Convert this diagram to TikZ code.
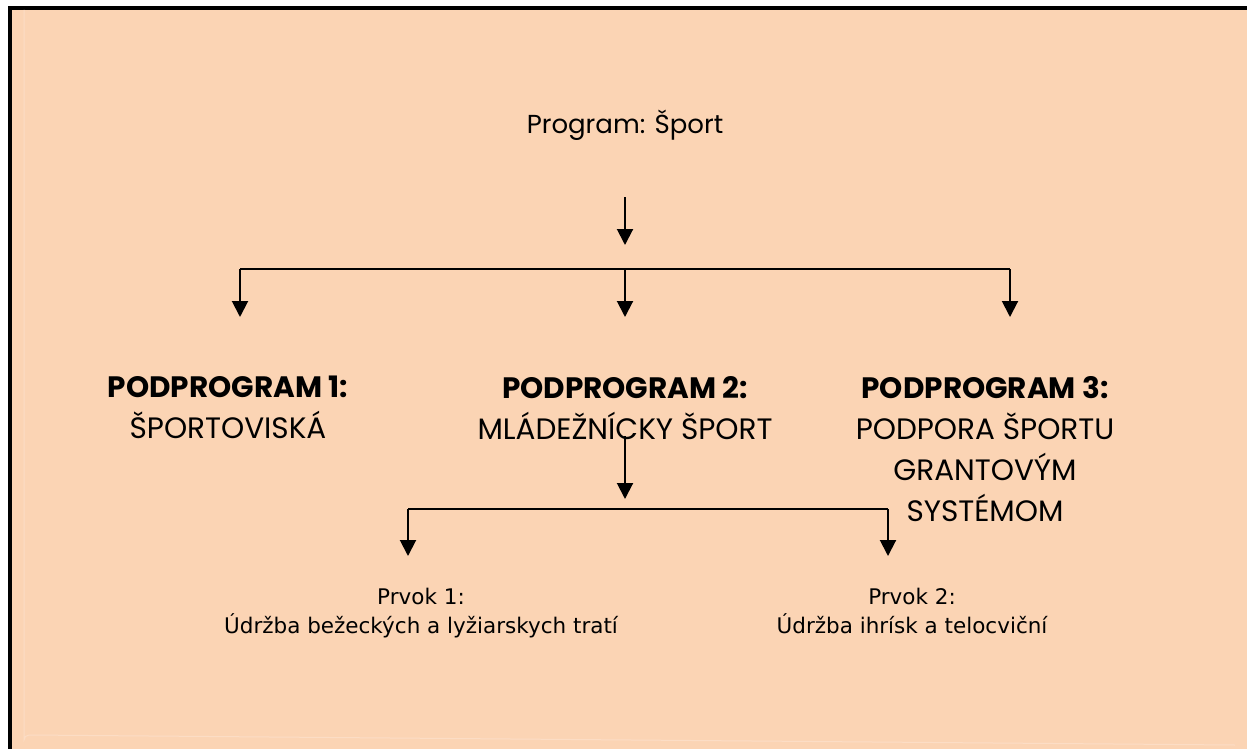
\documentclass[tikz,border=0pt]{standalone}
\usepackage{fontspec}
\usetikzlibrary{arrows.meta}
\newfontfamily\gothic{Poppins}
\newfontfamily\verd{DejaVu Sans}
\definecolor{peach}{HTML}{FBD4B4}
\definecolor{peachline}{HTML}{FCDDC5}
\tikzset{
  arr/.style={line width=2pt,-{Triangle[width=16pt,length=16pt]}},
  ln/.style={line width=2pt},
  toptext/.style={inner sep=0pt,font=\gothic\fontsize{26}{32}\selectfont},
  sub/.style={inner sep=0pt,align=center,anchor=north,font=\gothic\fontsize{29.5}{41}\selectfont},
  elem/.style={inner sep=0pt,align=center,anchor=north,font=\verd\fontsize{21.5}{29}\selectfont}
}
\begin{document}
\begin{tikzpicture}[x=1pt,y=-1pt]
\useasboundingbox (0,0) rectangle (1247,749);
\fill[peach] (8,6) rectangle (1247,749);
\fill[black] (8,6) rectangle (1247,10);
\fill[black] (8,6) rectangle (12,749);
\draw[peachline,line width=1pt] (24,10) -- (24,740) arc[start angle=180,end angle=270,radius=5] -- (1235,745);

\node[toptext,anchor=base] (prog) at (625,134) {Program: Šport};

\node[sub] (p1) at (228,376) {\textbf{PODPROGRAM 1:}\\ŠPORTOVISKÁ};
\node[sub] (p2) at (625,376) {\textbf{PODPROGRAM 2:}\\MLÁDEŽNÍCKY ŠPORT};
\node[sub] (p3) at (985,376) {\textbf{PODPROGRAM 3:}\\PODPORA ŠPORTU\\GRANTOVÝM\\SYSTÉMOM};

\node[elem] (e1) at (421,588) {Prvok 1:\\Údržba bežeckých a lyžiarskych tratí};
\node[elem] (e2) at (912,588) {Prvok 2:\\Údržba ihrísk a telocviční};

\coordinate (a0) at (625,197);
\coordinate (a1) at (625,245);
\coordinate (hl) at (240,269);
\coordinate (hm) at (625,269);
\coordinate (hr) at (1010,269);
\draw[arr] (a0) -- (a1);
\draw[ln] (hl) -- (hr);
\draw[arr] (hl) -- (hl |- 0,317);
\draw[arr] (hm) -- (hm |- 0,317);
\draw[arr] (hr) -- (hr |- 0,317);

\coordinate (b0) at (625,436);
\coordinate (b1) at (625,499);
\coordinate (gl) at (408,509);
\coordinate (gr) at (888,509);
\draw[arr] (b0) -- (b1);
\draw[ln] (gl) -- (gr);
\draw[arr] (gl) -- (gl |- 0,556);
\draw[arr] (gr) -- (gr |- 0,556);
\end{tikzpicture}
\end{document}
